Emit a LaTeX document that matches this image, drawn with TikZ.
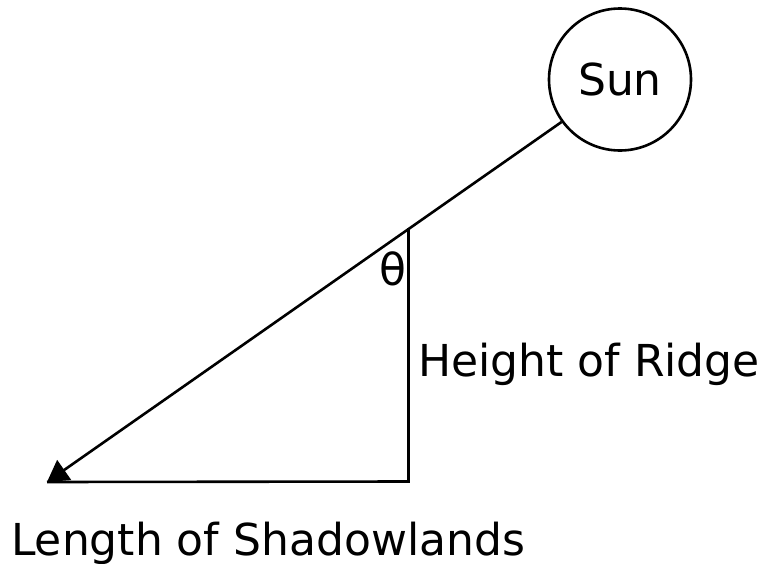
\documentclass[tikz,border=0pt]{standalone}
\usepackage{fontspec}
\setmainfont{DejaVu Sans}
\usetikzlibrary{arrows.meta}
\begin{document}
\begin{tikzpicture}[x=1pt,y=-1pt,
  lbl/.style={inner sep=0pt,font=\fontsize{44}{50}\selectfont},
  edge/.style={line width=2.6pt,line join=miter},
  sunbox/.style={circle,draw,line width=2.6pt,minimum size=142pt,inner sep=0pt,font=\fontsize{44}{50}\selectfont}]
\useasboundingbox (0,0) rectangle (761,563);
\node[sunbox] (sun) at (620,79.5) {Sun};
\coordinate (tip) at (47,482);
\coordinate (top) at (408.5,228);
\coordinate (corner) at (408.5,481.5);
\draw[edge,-{Triangle[length=21pt,width=24pt]}] (sun.216) -- (tip);
\draw[edge] (top) -- (corner) -- (tip);
\node[lbl,anchor=base] (theta) at (392.5,285) {θ};
\node[lbl,anchor=base west] (height) at (418,376) {Height of Ridge};
\node[lbl,anchor=base west] (length) at (11,555) {Length of Shadowlands};
\end{tikzpicture}
\end{document}
